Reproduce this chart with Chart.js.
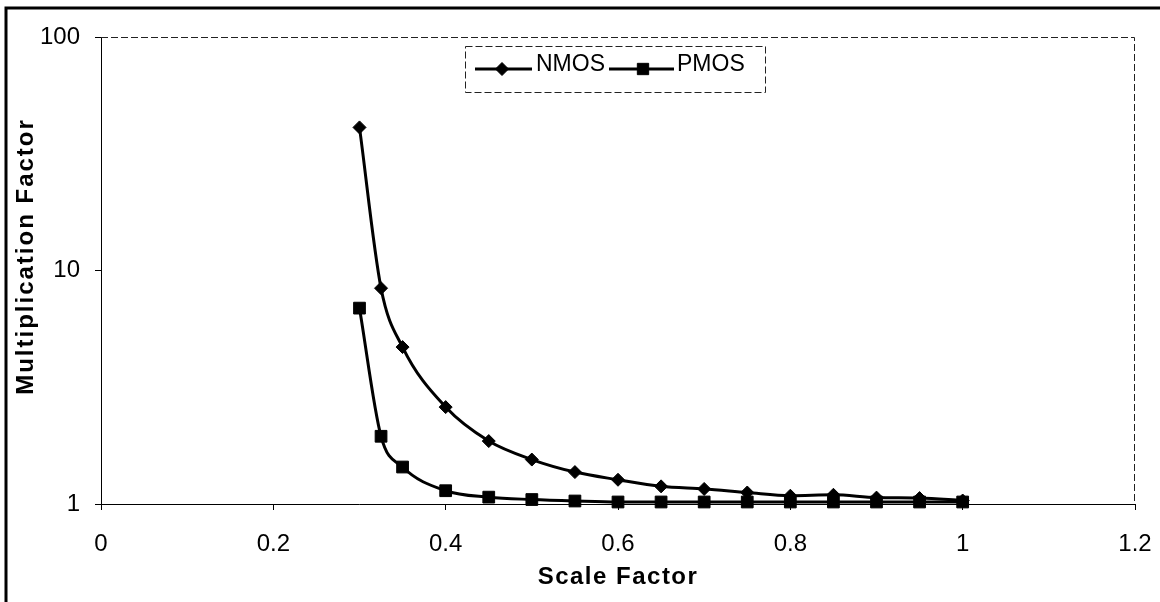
<!DOCTYPE html>
<html>
<head>
<meta charset="utf-8">
<script src="https://cdn.jsdelivr.net/npm/chart.js@4.4.1/dist/chart.umd.min.js"></script>
<style>
  html, body { margin: 0; padding: 0; background: #fff; }
  #wrap { width: 1160px; height: 602px; position: relative; }
</style>
</head>
<body>
<div id="wrap"><canvas id="c" width="1160" height="602"></canvas></div>
<script>
const scaleFactor = [0.3, 0.325, 0.35, 0.4, 0.45, 0.5, 0.55, 0.6, 0.65, 0.7, 0.75, 0.8, 0.85, 0.9, 0.95, 1.0];
const nmos = [41, 8.4, 4.7, 2.6, 1.86, 1.55, 1.37, 1.27, 1.19, 1.16, 1.12, 1.085, 1.095, 1.065, 1.06, 1.035];
const pmos = [6.9, 1.95, 1.44, 1.14, 1.07, 1.045, 1.03, 1.02, 1.02, 1.02, 1.02, 1.02, 1.02, 1.02, 1.02, 1.02];
const xTicks = [0, 0.2, 0.4, 0.6, 0.8, 1, 1.2];
const yTicks = [1, 10, 100];
const seriesNames = ['NMOS', 'PMOS'];

const FONT = "'Liberation Sans', Arial, sans-serif";

function spacedTitle(scale, spacing, dy) {
  if (scale._spacedTitle) return;
  const orig = scale.drawTitle;
  scale.drawTitle = function () {
    const ctx = this.ctx;
    ctx.save();
    try { ctx.letterSpacing = spacing; } catch (e) {}
    ctx.translate(0, dy);
    orig.call(this);
    ctx.restore();
    try { ctx.letterSpacing = '0px'; } catch (e) {}
  };
  scale._spacedTitle = true;
}

const frame = {
  id: 'frame',
  beforeDraw(chart) {
    const ctx = chart.ctx;
    ctx.save();
    ctx.fillStyle = '#fff';
    ctx.fillRect(0, 0, chart.width, chart.height);
    ctx.strokeStyle = '#000';
    ctx.lineWidth = 3;
    ctx.beginPath();
    ctx.moveTo(6, 602);
    ctx.lineTo(6, 8);
    ctx.lineTo(1160, 8);
    ctx.stroke();
    ctx.restore();
  },
  afterDraw(chart) {
    const ctx = chart.ctx;
    const a = chart.chartArea;
    ctx.save();
    ctx.strokeStyle = '#222';
    ctx.lineWidth = 1;
    ctx.setLineDash([7, 3]);
    ctx.beginPath();
    ctx.moveTo(a.left, a.top + 0.5);
    ctx.lineTo(a.right - 0.5, a.top + 0.5);
    ctx.lineTo(a.right - 0.5, a.bottom);
    ctx.stroke();
    const lx = 465, ly = 46, lw = 300, lh = 46;
    ctx.strokeRect(lx + 0.5, ly + 0.5, lw, lh);
    ctx.setLineDash([]);
    const cy = 69;
    const items = [
      {x0: 475, x1: 532, mx: 502, tx: 536, style: 'rectRot', r: 6.5},
      {x0: 609, x1: 674, mx: 643, tx: 677, style: 'rect', r: 8}
    ];
    chart.data.datasets.forEach((ds, i) => {
      const it = items[i];
      ctx.strokeStyle = '#000';
      ctx.lineWidth = 3;
      ctx.beginPath();
      ctx.moveTo(it.x0, cy);
      ctx.lineTo(it.x1, cy);
      ctx.stroke();
      ctx.fillStyle = '#000';
      ctx.lineWidth = 1;
      Chart.helpers.drawPoint(ctx, {pointStyle: it.style, radius: it.r, borderWidth: 1, rotation: 0}, it.mx, cy);
      ctx.fillStyle = '#000';
      ctx.font = '23px ' + FONT;
      ctx.textBaseline = 'middle';
      ctx.textAlign = 'left';
      ctx.fillText(ds.label, it.tx, 65);
    });
    ctx.restore();
  }
};

const common = {
  borderColor: '#000',
  backgroundColor: '#000',
  pointBackgroundColor: '#000',
  pointBorderColor: '#000',
  borderWidth: 3,
  pointBorderWidth: 1,
  cubicInterpolationMode: 'monotone',
  clip: false,
  fill: false
};

new Chart(document.getElementById('c'), {
  type: 'line',
  data: {
    datasets: [
      Object.assign({}, common, {
        label: seriesNames[0],
        data: scaleFactor.map((x, i) => ({x: x, y: nmos[i]})),
        pointStyle: 'rectRot',
        pointRadius: 6.5
      }),
      Object.assign({}, common, {
        label: seriesNames[1],
        data: scaleFactor.map((x, i) => ({x: x, y: pmos[i]})),
        pointStyle: 'rect',
        pointRadius: 8.3
      })
    ]
  },
  options: {
    responsive: false,
    animation: false,
    devicePixelRatio: 1,
    layout: { padding: { left: 0, top: 37, right: 25, bottom: 0 } },
    plugins: { legend: { display: false }, tooltip: { enabled: false } },
    scales: {
      x: {
        type: 'linear',
        min: 0, max: 1.2,
        afterBuildTicks: s => { s.ticks = xTicks.map(v => ({value: v})); },
        afterFit: s => {
          s.height = 602 - 504;
          s.paddingRight = 0;
          s.paddingLeft = 0;
          spacedTitle(s, '1.5px', 0);
        },
        ticks: {
          color: '#000',
          font: { family: FONT, size: 24 },
          padding: 20,
          maxRotation: 0,
          callback: v => String(v)
        },
        grid: { drawOnChartArea: false, drawTicks: true, tickLength: 6, color: '#000' },
        border: { display: true, color: '#000', width: 1 },
        title: {
          display: true,
          text: 'Scale Factor',
          color: '#000',
          font: { family: FONT, size: 24, weight: 'bold' },
          padding: { top: 0, bottom: 10 }
        }
      },
      y: {
        type: 'logarithmic',
        min: 1, max: 100,
        afterBuildTicks: s => { s.ticks = yTicks.map(v => ({value: v, major: true})); },
        afterFit: s => {
          s.width = 101;
          s.paddingTop = 0;
          s.paddingBottom = 0;
          spacedTitle(s, '2px', -14);
        },
        ticks: {
          color: '#000',
          font: { family: FONT, size: 24 },
          padding: 15,
          callback: v => String(v)
        },
        grid: { drawOnChartArea: false, drawTicks: true, tickLength: 6, color: '#000' },
        border: { display: true, color: '#000', width: 1 },
        title: {
          display: true,
          text: 'Multiplication Factor',
          color: '#000',
          font: { family: FONT, size: 24, weight: 'bold' },
          padding: { top: 12, bottom: 0 }
        }
      }
    }
  },
  plugins: [frame]
});
</script>
</body>
</html>
